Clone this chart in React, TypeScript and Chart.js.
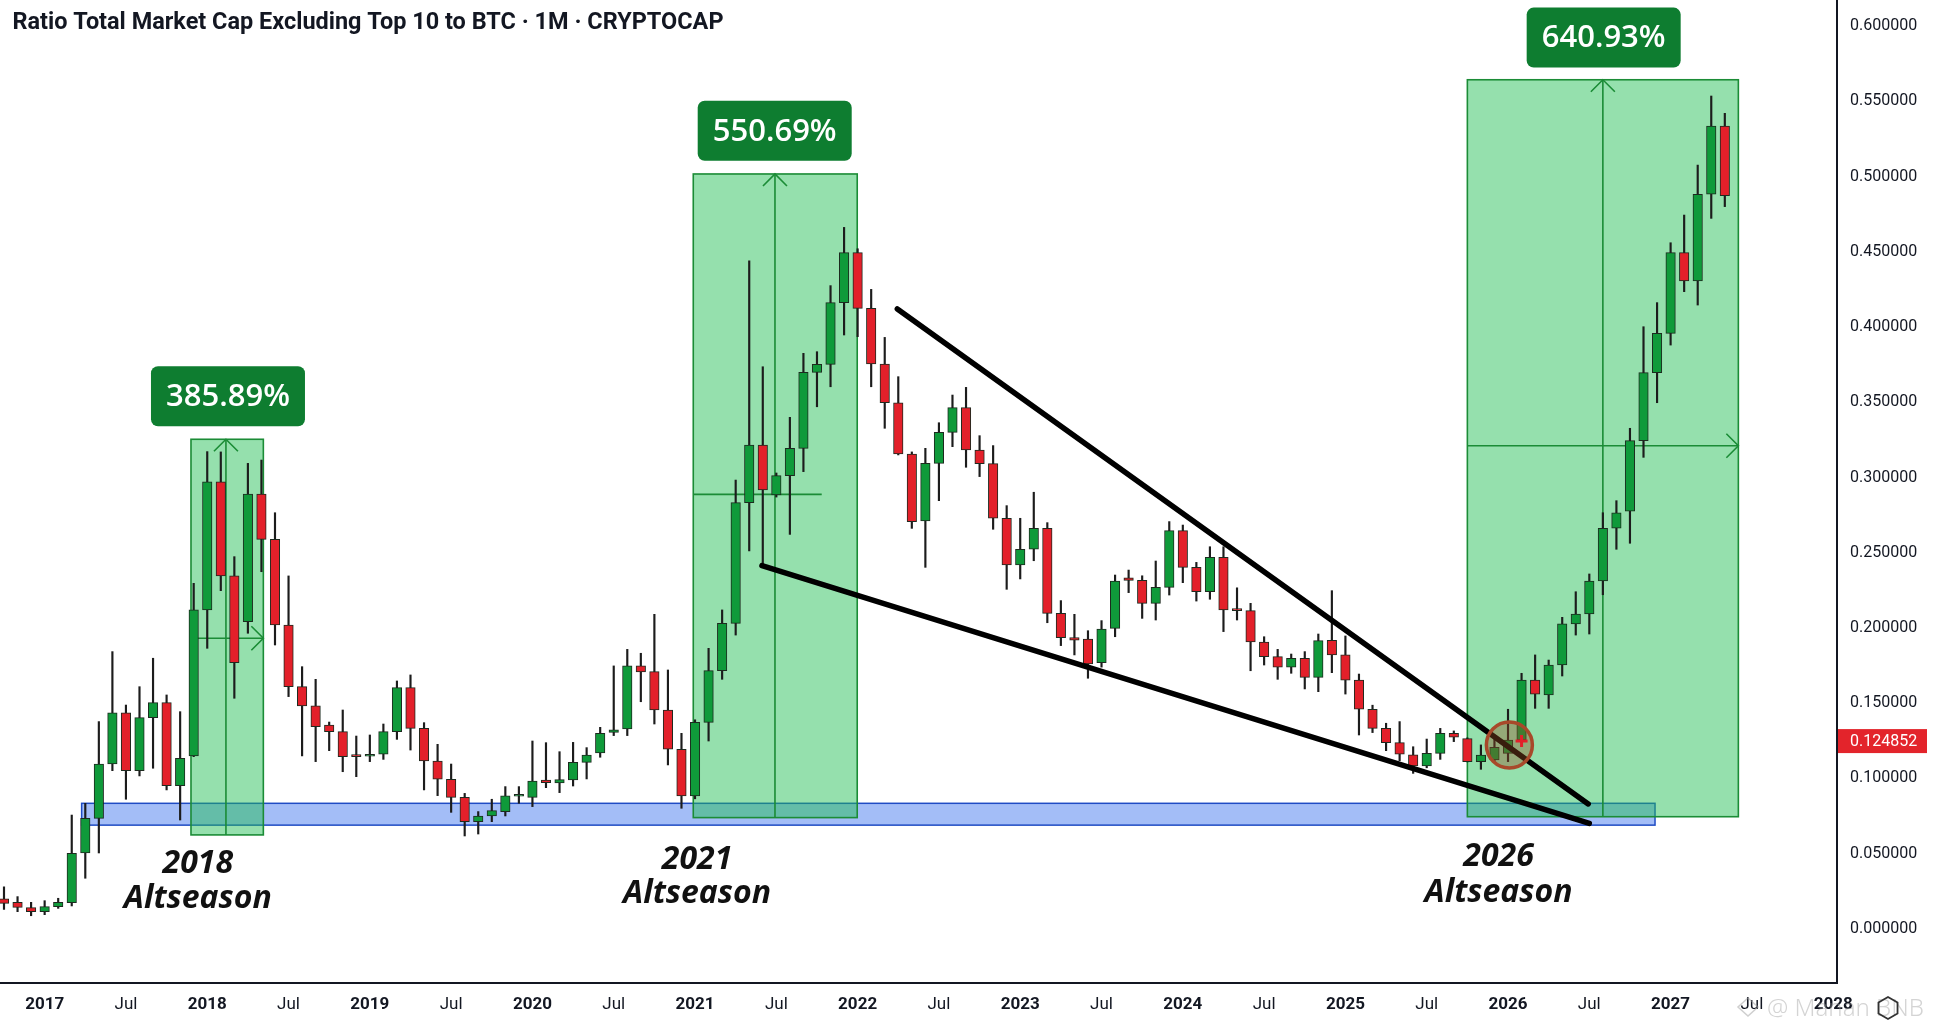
import React, { useEffect, useRef } from "react";
import { Chart, registerables } from "chart.js";

Chart.register(...registerables);

// ---------- DATA ----------
const months = [
  "2016-10", "2016-11", "2016-12",
  "2017-01", "2017-02", "2017-03", "2017-04", "2017-05", "2017-06", "2017-07", "2017-08", "2017-09", "2017-10", "2017-11", "2017-12",
  "2018-01", "2018-02", "2018-03", "2018-04", "2018-05", "2018-06", "2018-07", "2018-08", "2018-09", "2018-10", "2018-11", "2018-12",
  "2019-01", "2019-02", "2019-03", "2019-04", "2019-05", "2019-06", "2019-07", "2019-08", "2019-09", "2019-10", "2019-11", "2019-12",
  "2020-01", "2020-02", "2020-03", "2020-04", "2020-05", "2020-06", "2020-07", "2020-08", "2020-09", "2020-10", "2020-11", "2020-12",
  "2021-01", "2021-02", "2021-03", "2021-04", "2021-05", "2021-06", "2021-07", "2021-08", "2021-09", "2021-10", "2021-11", "2021-12",
  "2022-01", "2022-02", "2022-03", "2022-04", "2022-05", "2022-06", "2022-07", "2022-08", "2022-09", "2022-10", "2022-11", "2022-12",
  "2023-01", "2023-02", "2023-03", "2023-04", "2023-05", "2023-06", "2023-07", "2023-08", "2023-09", "2023-10", "2023-11", "2023-12",
  "2024-01", "2024-02", "2024-03", "2024-04", "2024-05", "2024-06", "2024-07", "2024-08", "2024-09", "2024-10", "2024-11", "2024-12",
  "2025-01", "2025-02", "2025-03", "2025-04", "2025-05", "2025-06", "2025-07", "2025-08", "2025-09", "2025-10", "2025-11", "2025-12",
  "2026-01", "2026-02", "2026-03", "2026-04", "2026-05", "2026-06", "2026-07", "2026-08", "2026-09", "2026-10", "2026-11", "2026-12",
  "2027-01", "2027-02", "2027-03", "2027-04", "2027-05",
];

const opens = [
  0.0200, 0.0177, 0.0142,
  0.0115, 0.0149, 0.0175, 0.0505, 0.0735, 0.1096, 0.1437, 0.1052, 0.1404, 0.1504, 0.0952, 0.1150,
  0.2120, 0.2972, 0.2346, 0.2042, 0.2890, 0.2589, 0.2020, 0.1610, 0.1482, 0.1355, 0.1311, 0.1148,
  0.1148, 0.1161, 0.1311, 0.1604, 0.1333, 0.1116, 0.0995, 0.0875, 0.0713, 0.0751, 0.0780, 0.0882,
  0.0875, 0.0990, 0.0970, 0.0990, 0.1107, 0.1170, 0.1306, 0.1329, 0.1748, 0.1710, 0.1455, 0.1194,
  0.0884, 0.1373, 0.1717, 0.2031, 0.2833, 0.3216, 0.2884, 0.3012, 0.3194, 0.3699, 0.3752, 0.4162,
  0.4494, 0.4124, 0.3754, 0.3497, 0.3156, 0.2712, 0.3094, 0.3300, 0.3464, 0.3183, 0.3092, 0.2729,
  0.2419, 0.2523, 0.2662, 0.2097, 0.1936, 0.1927, 0.1769, 0.1997, 0.2334, 0.2316, 0.2164, 0.2270,
  0.2647, 0.2403, 0.2241, 0.2470, 0.2120, 0.2115, 0.1907, 0.1810, 0.1739, 0.1798, 0.1672, 0.1918,
  0.1821, 0.1654, 0.1460, 0.1333, 0.1238, 0.1157, 0.1083, 0.1167, 0.1300, 0.1265, 0.1112, 0.1123,
  0.1167, 0.1256, 0.1654, 0.1556, 0.1754, 0.2027, 0.2093, 0.2312, 0.2664, 0.2776, 0.3245, 0.3697,
  0.3958, 0.4494, 0.4306, 0.4882, 0.5336,
];

const highs = [
  0.0280, 0.0215, 0.0177,
  0.0188, 0.0204, 0.0757, 0.0835, 0.1378, 0.1843, 0.1488, 0.1610, 0.1799, 0.1555, 0.1444, 0.2297,
  0.3172, 0.3170, 0.2474, 0.3094, 0.3116, 0.2766, 0.2346, 0.1743, 0.1659, 0.1375, 0.1455, 0.1282,
  0.1289, 0.1362, 0.1648, 0.1688, 0.1371, 0.1227, 0.1096, 0.0901, 0.0780, 0.0862, 0.0946, 0.0946,
  0.1249, 0.1238, 0.1178, 0.1240, 0.1205, 0.1340, 0.1748, 0.1858, 0.1832, 0.2091, 0.1721, 0.1300,
  0.1390, 0.1865, 0.2120, 0.2983, 0.4440, 0.3736, 0.3030, 0.3400, 0.3825, 0.3836, 0.4275, 0.4662,
  0.4520, 0.4250, 0.3931, 0.3670, 0.3170, 0.3194, 0.3364, 0.3548, 0.3599, 0.3278, 0.3212, 0.2813,
  0.2729, 0.2902, 0.2700, 0.2182, 0.2091, 0.1982, 0.2049, 0.2352, 0.2385, 0.2347, 0.2445, 0.2707,
  0.2684, 0.2436, 0.2540, 0.2540, 0.2267, 0.2164, 0.1942, 0.1858, 0.1827, 0.1843, 0.1960, 0.2248,
  0.1947, 0.1694, 0.1487, 0.1367, 0.1378, 0.1211, 0.1262, 0.1333, 0.1316, 0.1270, 0.1223, 0.1280,
  0.1460, 0.1699, 0.1821, 0.1787, 0.2071, 0.2241, 0.2359, 0.2766, 0.2846, 0.3327, 0.4002, 0.4162,
  0.4560, 0.4744, 0.5076, 0.5535, 0.5420,
];

const lows = [
  0.0130, 0.0115, 0.0088,
  0.0095, 0.0137, 0.0153, 0.0337, 0.0505, 0.1052, 0.0862, 0.1017, 0.1068, 0.0924, 0.0724, 0.1145,
  0.1865, 0.2248, 0.1533, 0.1965, 0.2374, 0.1887, 0.1544, 0.1150, 0.1112, 0.1185, 0.1045, 0.1012,
  0.1112, 0.1127, 0.1260, 0.1189, 0.0924, 0.0886, 0.0775, 0.0618, 0.0631, 0.0713, 0.0751, 0.0835,
  0.0813, 0.0939, 0.0906, 0.0950, 0.0997, 0.1141, 0.1285, 0.1285, 0.1510, 0.1362, 0.1090, 0.0802,
  0.0865, 0.1249, 0.1659, 0.1953, 0.2512, 0.2419, 0.2870, 0.2622, 0.3039, 0.3470, 0.3603, 0.3947,
  0.3936, 0.3603, 0.3327, 0.3150, 0.2662, 0.2403, 0.2846, 0.3205, 0.3068, 0.3006, 0.2656, 0.2257,
  0.2326, 0.2447, 0.2035, 0.1883, 0.1821, 0.1666, 0.1740, 0.1942, 0.2235, 0.2064, 0.2053, 0.2219,
  0.2301, 0.2179, 0.2191, 0.1976, 0.2053, 0.1716, 0.1754, 0.1659, 0.1699, 0.1595, 0.1577, 0.1703,
  0.1561, 0.1289, 0.1305, 0.1185, 0.1118, 0.1034, 0.1071, 0.1127, 0.1245, 0.1110, 0.1061, 0.1112,
  0.1112, 0.1240, 0.1466, 0.1466, 0.1681, 0.1953, 0.1960, 0.2221, 0.2523, 0.2563, 0.3134, 0.3497,
  0.3880, 0.4235, 0.4146, 0.4722, 0.4800,
];

const closes = [
  0.0170, 0.0144, 0.0115,
  0.0149, 0.0177, 0.0503, 0.0735, 0.1096, 0.1437, 0.1052, 0.1404, 0.1504, 0.0952, 0.1134, 0.2120,
  0.2972, 0.2346, 0.1770, 0.2890, 0.2589, 0.2020, 0.1610, 0.1482, 0.1344, 0.1311, 0.1145, 0.1145,
  0.1161, 0.1311, 0.1604, 0.1333, 0.1116, 0.0995, 0.0875, 0.0713, 0.0751, 0.0786, 0.0884, 0.0884,
  0.0983, 0.0972, 0.0992, 0.1107, 0.1156, 0.1300, 0.1324, 0.1748, 0.1708, 0.1455, 0.1194, 0.0884,
  0.1373, 0.1717, 0.2031, 0.2833, 0.3216, 0.2917, 0.3012, 0.3194, 0.3699, 0.3752, 0.4162, 0.4494,
  0.4124, 0.3754, 0.3497, 0.3156, 0.2707, 0.3094, 0.3300, 0.3464, 0.3183, 0.3092, 0.2729, 0.2419,
  0.2523, 0.2662, 0.2097, 0.1936, 0.1919, 0.1761, 0.1993, 0.2312, 0.2316, 0.2164, 0.2270, 0.2647,
  0.2403, 0.2241, 0.2470, 0.2120, 0.2115, 0.1907, 0.1810, 0.1739, 0.1798, 0.1672, 0.1916, 0.1821,
  0.1654, 0.1460, 0.1333, 0.1238, 0.1161, 0.1083, 0.1167, 0.1300, 0.1274, 0.1112, 0.1156, 0.1207,
  0.1256, 0.1654, 0.1561, 0.1754, 0.2027, 0.2093, 0.2312, 0.2662, 0.2766, 0.3245, 0.3697, 0.3958,
  0.4494, 0.4306, 0.4882, 0.5336, 0.4873,
];

const yTicks = [0, 0.05, 0.1, 0.15, 0.2, 0.25, 0.3, 0.35, 0.4, 0.45, 0.5, 0.55, 0.6];
const xTickMonths = [0, 6, 12, 18, 24, 30, 36, 42, 48, 54, 60, 66, 72, 78, 84, 90, 96, 102, 108, 114, 120, 126, 132];
const xTickLabels = ["2017", "Jul", "2018", "Jul", "2019", "Jul", "2020", "Jul", "2021", "Jul", "2022", "Jul", "2023", "Jul", "2024", "Jul", "2025", "Jul", "2026", "Jul", "2027", "Jul", "2028"];

const currentPrice = 0.124852;
const titleText = "Ratio Total Market Cap Excluding Top 10 to BTC · 1M · CRYPTOCAP";

// ---------- ANNOTATIONS (in data units: months since Jan 2017, ratio) ----------
const supportBand = { from: 2.73, to: 118.85, low: 0.069, high: 0.0835 };
const rangeBoxes = [
  { from: 10.8, to: 16.14, low: 0.0625, high: 0.3254, mid: 13.38, level: 0.1932, levelTo: 16.14, levelArrow: true },
  { from: 47.87, to: 59.97, low: 0.074, high: 0.5017, mid: 53.9, level: 0.2888, levelTo: 57.35, levelArrow: false },
  { from: 105.0, to: 125.0, low: 0.0746, high: 0.5643, mid: 115.0, level: 0.3211, levelTo: 125.0, levelArrow: true },
];
const gainLabels = [
  { text: "385.89%", x: 13.53, y: 0.354 },
  { text: "550.69%", x: 53.88, y: 0.5304 },
  { text: "640.93%", x: 115.06, y: 0.5923 },
];
const seasonLabels = [
  { year: "2018", x: 11.3, y: 0.0372, y2: 0.0141 },
  { year: "2021", x: 48.15, y: 0.0397, y2: 0.0171 },
  { year: "2026", x: 107.3, y: 0.0419, y2: 0.0179 },
];
const wedgeUpper = [{ x: 62.93, y: 0.412 }, { x: 113.92, y: 0.0831 }];
const wedgeLower = [{ x: 52.94, y: 0.2415 }, { x: 114.0, y: 0.0702 }];
const breakoutCircle = { x: 108.1, y: 0.1223 };
const priceCross = { x: 109.0, y: 0.1249 };

const monthIndex = (s: string) => {
  const [yy, mm] = s.split("-").map(Number);
  return (yy - 2017) * 12 + (mm - 1);
};

const GREEN = "#0f9a3a";
const RED = "#e3202a";

const overlayPlugin = {
  id: "overlay",
  beforeDatasetsDraw(chart: any) {
    const { ctx, chartArea, scales } = chart;
    const x = scales.x, y = scales.y;
    ctx.save();
    ctx.beginPath();
    ctx.rect(chartArea.left, chartArea.top, chartArea.right - chartArea.left, chartArea.bottom - chartArea.top);
    ctx.clip();

    // support band
    const bx1 = x.getPixelForValue(supportBand.from);
    const bx2 = x.getPixelForValue(supportBand.to);
    const by1 = y.getPixelForValue(supportBand.high);
    const by2 = y.getPixelForValue(supportBand.low);
    ctx.fillStyle = "rgba(52,108,238,0.45)";
    ctx.fillRect(bx1, by1, bx2 - bx1, by2 - by1);
    ctx.strokeStyle = "#1f4cc4";
    ctx.lineWidth = 1.5;
    ctx.strokeRect(bx1, by1, bx2 - bx1, by2 - by1);

    // range boxes
    for (const b of rangeBoxes) {
      const x1 = x.getPixelForValue(b.from);
      const x2 = x.getPixelForValue(b.to);
      const y1 = y.getPixelForValue(b.high);
      const y2 = y.getPixelForValue(b.low);
      ctx.fillStyle = "rgba(30,190,80,0.47)";
      ctx.fillRect(x1, y1, x2 - x1, y2 - y1);
      ctx.strokeStyle = "#1b8c36";
      ctx.lineWidth = 1.6;
      ctx.strokeRect(x1, y1, x2 - x1, y2 - y1);
      // vertical arrow
      const mx = x.getPixelForValue(b.mid);
      ctx.beginPath();
      ctx.moveTo(mx, y2);
      ctx.lineTo(mx, y1);
      ctx.stroke();
      ctx.beginPath();
      ctx.moveTo(mx - 12, y1 + 12);
      ctx.lineTo(mx, y1);
      ctx.lineTo(mx + 12, y1 + 12);
      ctx.stroke();
      // horizontal level
      const ly = y.getPixelForValue(b.level);
      const lx2 = x.getPixelForValue(b.levelTo);
      ctx.beginPath();
      ctx.moveTo(x1, ly);
      ctx.lineTo(lx2, ly);
      ctx.stroke();
      if (b.levelArrow) {
        ctx.beginPath();
        ctx.moveTo(lx2 - 12, ly - 12);
        ctx.lineTo(lx2, ly);
        ctx.lineTo(lx2 - 12, ly + 12);
        ctx.stroke();
      }
    }
    ctx.restore();
  },
  afterDatasetsDraw(chart: any) {
    const { ctx, scales } = chart;
    const x = scales.x, y = scales.y;
    ctx.save();

    // breakout circle
    const cx = x.getPixelForValue(breakoutCircle.x);
    const cy = y.getPixelForValue(breakoutCircle.y);
    ctx.beginPath();
    ctx.arc(cx, cy, 23, 0, Math.PI * 2);
    ctx.fillStyle = "rgba(150,75,35,0.38)";
    ctx.fill();
    ctx.strokeStyle = "#a8492a";
    ctx.lineWidth = 3.5;
    ctx.stroke();

    // red cross
    const px = x.getPixelForValue(priceCross.x);
    const py = y.getPixelForValue(priceCross.y);
    ctx.strokeStyle = RED;
    ctx.lineWidth = 3;
    ctx.beginPath();
    ctx.moveTo(px - 6, py);
    ctx.lineTo(px + 6, py);
    ctx.moveTo(px, py - 6);
    ctx.lineTo(px, py + 6);
    ctx.stroke();

    // gain labels
    for (const g of gainLabels) {
      const gx = x.getPixelForValue(g.x);
      const gy = y.getPixelForValue(g.y);
      ctx.fillStyle = "#0e7d30";
      ctx.beginPath();
      (ctx as any).roundRect(gx - 77, gy - 30, 154, 60, 7);
      ctx.fill();
      ctx.fillStyle = "#ffffff";
      ctx.font = '600 31px "Open Sans"';
      ctx.textAlign = "center";
      ctx.textBaseline = "middle";
      ctx.fillText(g.text, gx, gy + 1);
    }

    // season labels
    ctx.fillStyle = "#111111";
    ctx.textAlign = "center";
    ctx.textBaseline = "alphabetic";
    ctx.font = 'italic 700 32px "Open Sans"';
    for (const s of seasonLabels) {
      const sx = x.getPixelForValue(s.x);
      ctx.fillText(s.year, sx, y.getPixelForValue(s.y));
      ctx.fillText("Altseason", sx, y.getPixelForValue(s.y2));
    }
    ctx.restore();
  },
  afterDraw(chart: any) {
    const { ctx, scales, chartArea } = chart;
    const y = scales.y;
    ctx.save();
    // title
    ctx.font = "bold 23px Roboto";
    ctx.fillStyle = "#131722";
    ctx.textAlign = "left";
    ctx.textBaseline = "alphabetic";
    const w = ctx.measureText(titleText).width;
    ctx.translate(12.5, 28.5);
    ctx.scale(711 / w, 1);
    ctx.fillText(titleText, 0, 0);
    ctx.restore();

    // current price label
    ctx.save();
    const py = y.getPixelForValue(currentPrice);
    ctx.fillStyle = "#e3242b";
    ctx.fillRect(chartArea.right + 1, py - 12, 89, 24);
    ctx.fillStyle = "#ffffff";
    ctx.font = "16px Roboto";
    ctx.textAlign = "left";
    ctx.textBaseline = "middle";
    ctx.fillText(currentPrice.toFixed(6), chartArea.right + 13, py + 1);

    // watermark
    ctx.fillStyle = "rgba(160,160,160,0.45)";
    ctx.font = '300 24px "Noto Sans"';
    ctx.textBaseline = "alphabetic";
    ctx.fillText("@ Manan BNB", 1767, 1016);
    ctx.strokeStyle = "rgba(160,160,160,0.5)";
    ctx.lineWidth = 1.5;
    ctx.beginPath();
    ctx.moveTo(1748, 998);
    ctx.lineTo(1758, 1007);
    ctx.lineTo(1748, 1016);
    ctx.lineTo(1738, 1007);
    ctx.closePath();
    ctx.stroke();
    // small hexagon icon
    ctx.strokeStyle = "#333";
    ctx.lineWidth = 1.8;
    ctx.beginPath();
    for (let k = 0; k < 6; k++) {
      const a = Math.PI / 6 + (k * Math.PI) / 3;
      const hx = 1888 + 11 * Math.cos(a);
      const hy = 1008 + 11 * Math.sin(a);
      if (k === 0) ctx.moveTo(hx, hy);
      else ctx.lineTo(hx, hy);
    }
    ctx.closePath();
    ctx.stroke();
    ctx.restore();
  },
};

export default function App() {
  const canvasRef = useRef<HTMLCanvasElement | null>(null);

  useEffect(() => {
    document.body.style.margin = "0";
    const canvas = canvasRef.current;
    if (!canvas) return;

    const xs = months.map(monthIndex);
    const wickData = xs.map((m, i) => ({ x: m, y: [lows[i], highs[i]] }));
    const bodyData = xs.map((m, i) => ({ x: m, y: [opens[i], closes[i]] }));
    const bodyColors = xs.map((_, i) => (closes[i] >= opens[i] ? GREEN : RED));

    const chart = new Chart(canvas, {
      type: "bar",
      data: {
        datasets: [
          {
            type: "line",
            data: wedgeUpper,
            borderColor: "#000000",
            borderWidth: 5.5,
            borderCapStyle: "round",
            pointRadius: 0,
            order: 0,
          } as any,
          {
            type: "line",
            data: wedgeLower,
            borderColor: "#000000",
            borderWidth: 5.5,
            borderCapStyle: "round",
            pointRadius: 0,
            order: 0,
          } as any,
          {
            type: "bar",
            data: bodyData,
            backgroundColor: bodyColors,
            borderColor: "#1d2a1f",
            borderWidth: 1,
            borderSkipped: false,
            barThickness: 9.5,
            minBarLength: 2,
            grouped: false,
            order: 1,
          } as any,
          {
            type: "bar",
            data: wickData,
            backgroundColor: "#1c1c1c",
            barThickness: 1.5,
            grouped: false,
            order: 2,
          } as any,
        ],
      },
      options: {
        animation: false,
        responsive: false,
        events: [],
        layout: { padding: 0 },
        plugins: {
          legend: { display: false },
          tooltip: { enabled: false },
          title: { display: false },
        },
        scales: {
          x: {
            type: "linear",
            min: -3.295,
            max: 132.28,
            offset: false,
            afterBuildTicks: (s: any) => {
              s.ticks = xTickMonths.map((v) => ({ value: v }));
            },
            afterFit: (s: any) => {
              s.height = 41;
              s.paddingLeft = 0;
              s.paddingRight = 0;
            },
            grid: { display: false, drawTicks: false },
            border: { display: true, color: "#131722", width: 2 },
            ticks: {
              autoSkip: false,
              maxRotation: 0,
              minRotation: 0,
              padding: 12,
              color: "#131722",
              font: (c: any) => ({
                family: "Roboto",
                size: 17,
                weight: xTickLabels[c.index] === "Jul" ? "normal" : "bold",
              }),
              callback: (_v: any, i: number) => xTickLabels[i],
            },
          },
          y: {
            type: "linear",
            position: "right",
            min: -0.0359,
            max: 0.6173,
            afterBuildTicks: (s: any) => {
              s.ticks = yTicks.map((v) => ({ value: v }));
            },
            afterFit: (s: any) => {
              s.width = 99;
              s.paddingTop = 0;
              s.paddingBottom = 0;
            },
            grid: { display: false, drawTicks: false },
            border: { display: true, color: "#131722", width: 2 },
            ticks: {
              padding: 13,
              color: "#131722",
              font: { family: "Roboto", size: 16 },
              callback: (v: any) => Number(v).toFixed(6),
            },
          },
        },
      } as any,
      plugins: [overlayPlugin],
    });

    return () => chart.destroy();
  }, []);

  return (
    <div style={{ position: "fixed", left: 0, top: 0, width: 1936, height: 1024, background: "#ffffff" }}>
      <canvas ref={canvasRef} width={1936} height={1024} style={{ width: 1936, height: 1024, display: "block" }} />
    </div>
  );
}
